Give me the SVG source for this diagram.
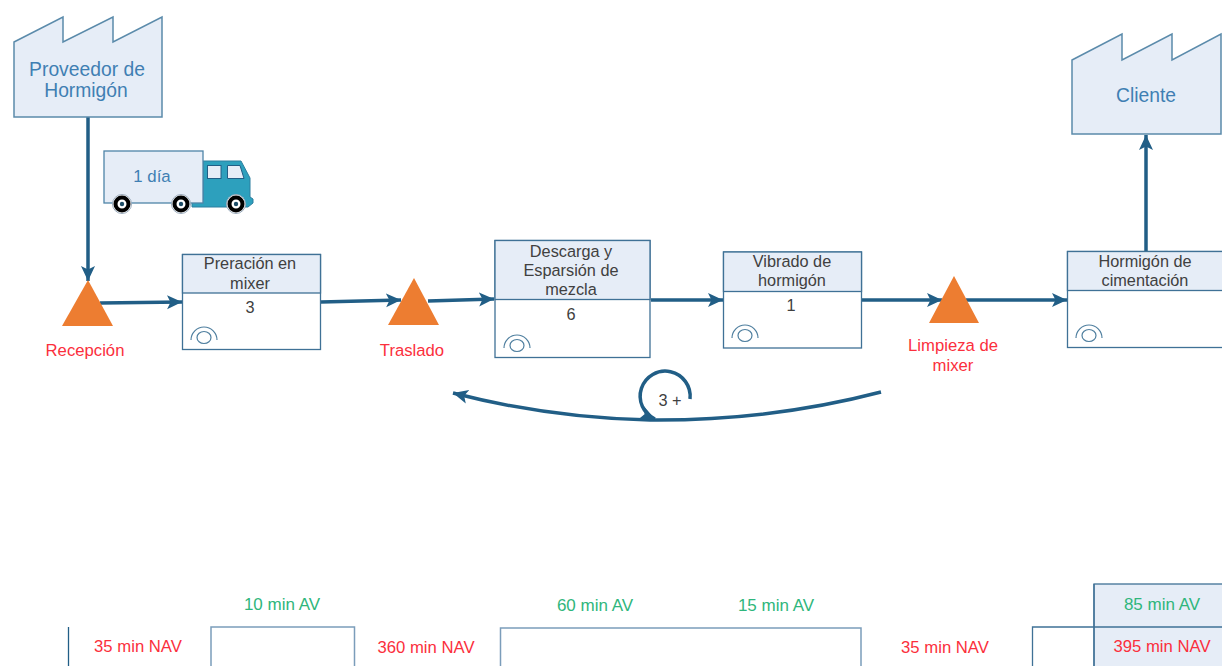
<svg xmlns="http://www.w3.org/2000/svg" width="1222" height="666" viewBox="0 0 1222 666">
<style>
text{font-family:"Liberation Sans",Arial,sans-serif;text-anchor:middle}
.fac{fill:#e6edf7;stroke:#5b8bab;stroke-width:1.5}
.ft{font-size:19.300px;fill:#3f7fb3}
.box{fill:#fff;stroke:#3f7196;stroke-width:1.3}
.hdr{fill:#e6edf7;stroke:#3f7196;stroke-width:1.3}
.pt{font-size:16.300px;fill:#404040}
.red{font-size:16.700px;fill:#fb2f3c}
.grn{font-size:17px;fill:#2fb67c}
.tri{fill:#ed7d31}
.c{fill:none;stroke:#215e86;stroke-width:3.500}
.eye{fill:none;stroke:#4f7f9f;stroke-width:1.2}
.tl{fill:none;stroke:#7b9dba;stroke-width:1.5}
</style>
<defs>
<marker id="a" markerUnits="userSpaceOnUse" markerWidth="17" markerHeight="17" refX="15" refY="8.500" orient="auto"><path d="M0 1.500 L15 8.500 L0 15.500 L3.500 8.500Z" fill="#215e86"/></marker>
<g id="eye"><path class="eye" d="M0 10 A13 13 0 0 1 26 10"/><ellipse class="eye" cx="13" cy="7.500" rx="7" ry="6"/></g>
<g id="wheel"><circle r="9.500" fill="#fff" stroke="#9ab" stroke-width="1"/><circle r="6.500" fill="#fff" stroke="#000" stroke-width="4"/><circle r="2.200" fill="#1d4d68"/></g>
</defs>
<g id="connectors">
<path class="c" d="M88 117V281" marker-end="url(#a)"/>
<path class="c" d="M100 303L182 302" marker-end="url(#a)"/>
<path class="c" d="M321 302L401 300" marker-end="url(#a)"/>
<path class="c" d="M428 301L494 299" marker-end="url(#a)"/>
<path class="c" d="M651 300H723" marker-end="url(#a)"/>
<path class="c" d="M862 300H942" marker-end="url(#a)"/>
<path class="c" d="M966 300H1067" marker-end="url(#a)"/>
<path class="c" d="M1146 251V135" marker-end="url(#a)"/>
<path class="c" d="M881 392Q770 421 650 420Q550 418 453 393" marker-end="url(#a)"/>
<path class="c" d="M690 399A25 25 0 1 0 655 419" marker-end="url(#a)"/>
</g>
<g id="proveedor"><path class="fac" d="M14 42L63 17V42L113 17V42L162 17V117H14Z"/><text class="ft" x="87" y="76">Proveedor de</text><text class="ft" x="86" y="97">Hormigón</text></g>
<g id="cliente"><path class="fac" d="M1072 60L1122 34V60L1172 34V60L1221 34V134H1072Z"/><text class="ft" x="1146" y="102">Cliente</text></g>
<g id="truck">
<path d="M200 161H241L250 178V197L253 199V203L248 207H192V200H203V161Z" fill="#2da0bd" stroke="#2d7f9f"/>
<rect x="207.500" y="165.500" width="13.500" height="13" fill="#e6edf7" stroke="#215e86"/><path d="M227.500 165.500H240L244 178.500H227.500Z" fill="#e6edf7" stroke="#215e86"/>
<rect x="104" y="151" width="99" height="52" fill="#e6edf7" stroke="#4f84a8" stroke-width="1.300"/>
<use href="#wheel" x="122" y="204"/><use href="#wheel" x="181" y="204"/><use href="#wheel" x="236" y="204"/>
<text x="152" y="182" style="font-size:16.800px;fill:#3f7fb3">1 día</text></g>
<g id="recepcion"><path class="tri" d="M88 280L113 326H62Z"/><text class="red" x="85" y="356">Recepción</text></g>
<g id="traslado"><path class="tri" d="M414 278L439 325H388Z"/><text class="red" x="412" y="356">Traslado</text></g>
<g id="limpieza"><path class="tri" d="M954 276L979 323H929Z"/><text class="red" x="953" y="351">Limpieza de</text><text class="red" x="953" y="371">mixer</text></g>
<g id="p1"><rect class="box" x="182.500" y="254.500" width="138" height="95"/><rect class="hdr" x="182.500" y="254.500" width="138" height="38.500"/><text class="pt" x="250" y="269">Preración en</text><text class="pt" x="250" y="289">mixer</text><text class="pt" x="250" y="313">3</text><use href="#eye" x="191" y="330"/></g>
<g id="p2"><rect class="box" x="495" y="240.500" width="155" height="117"/><rect class="hdr" x="495" y="240.500" width="155" height="59"/><text class="pt" x="571" y="257">Descarga y</text><text class="pt" x="571" y="276">Esparsión de</text><text class="pt" x="571" y="295">mezcla</text><text class="pt" x="571" y="320">6</text><use href="#eye" x="504" y="338"/></g>
<g id="p3"><rect class="box" x="723.500" y="252" width="138" height="96"/><rect class="hdr" x="723.500" y="252" width="138" height="39.500"/><text class="pt" x="792" y="267">Vibrado de</text><text class="pt" x="792" y="286">hormigón</text><text class="pt" x="791" y="311">1</text><use href="#eye" x="732" y="328"/></g>
<g id="p4"><rect class="box" x="1067.500" y="251.500" width="160" height="96"/><rect class="hdr" x="1067.500" y="251.500" width="160" height="39"/><text class="pt" x="1145" y="267">Hormigón de</text><text class="pt" x="1145" y="286">cimentación</text><use href="#eye" x="1076" y="328"/></g>
<text id="loop" x="670" y="406" class="pt">3 +</text>
<g id="timeline">
<rect x="1094" y="584" width="130" height="90" fill="#e6edf7" stroke="#3f7196" stroke-width="1.300"/>
<path d="M68.500 627V670" fill="none" stroke="#215e86" stroke-width="1.300"/>
<path class="tl" d="M211 670V627H354.500V670"/>
<path class="tl" d="M500.500 670V628H861V670"/>
<path d="M1032.500 670V627H1224" fill="none" stroke="#3f7196" stroke-width="1.300"/>
<path d="M1094 584V670" fill="none" stroke="#3f7196" stroke-width="1.300"/>
<text class="red" x="138" y="652">35 min NAV</text><text class="red" x="426" y="653">360 min NAV</text><text class="red" x="945" y="653">35 min NAV</text><text class="red" x="1162" y="652">395 min NAV</text>
<text class="grn" x="282" y="610">10 min AV</text><text class="grn" x="595" y="611">60 min AV</text><text class="grn" x="776" y="611">15 min AV</text><text class="grn" x="1162" y="610">85 min AV</text>
</g>
</svg>
